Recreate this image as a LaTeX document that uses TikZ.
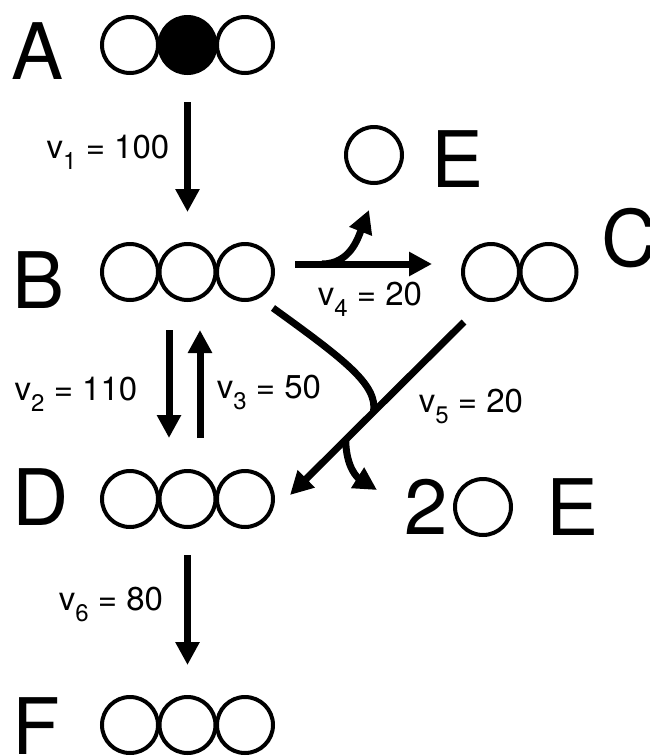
\documentclass[tikz,border=0pt]{standalone}
\usepackage{fontspec}
\setmainfont{TeX Gyre Heros}
\usetikzlibrary{positioning,arrows.meta,calc}

\newcommand{\vflux}[2]{v\raisebox{-11pt}{\fontsize{24}{24}\selectfont #1} = #2}

\begin{document}
\begin{tikzpicture}[
    x=1pt, y=-1pt,
    node distance=1.5pt,
    atom/.style={circle, draw, line width=4pt, minimum size=56pt, inner sep=0pt, outer sep=0pt},
    species/.style={font=\fontsize{78}{80}\selectfont, inner sep=0pt},
    ratelabel/.style={font=\fontsize{33}{36}\selectfont, inner sep=0pt, anchor=base},
    flux/.style={-{Triangle[length=23pt, width=23pt]}, line width=7pt},
    lane/.style={line width=7pt}
]
\useasboundingbox (0,0) rectangle (650,756);

%% ---- Species ----
\node[atom] (A1) at (130,45) {};
\node[atom, fill=black, right=of A1] (A2) {};
\node[atom, right=of A2] (A3) {};
\node[species] (labA) at (38,51) {A};

\node[atom] (B1) at (130,272) {};
\node[atom, right=of B1] (B2) {};
\node[atom, right=of B2] (B3) {};
\node[species] (labB) at (39,280) {B};

\node[atom] (E1) at (374,155) {};
\node[species] (labE1) at (458,159) {E};

\node[atom] (C1) at (491,272) {};
\node[atom, right=of C1] (C2) {};
\node[species] (labC) at (630,238) {C};

\node[atom] (D1) at (130,499) {};
\node[atom, right=of D1] (D2) {};
\node[atom, right=of D2] (D3) {};
\node[species] (labD) at (41,497) {D};

\node[atom] (E2) at (483,507) {};
\node[species] (two) at (426,507) {2};
\node[species] (labE2) at (573,507) {E};

\node[atom] (F1) at (130,725) {};
\node[atom, right=of F1] (F2) {};
\node[atom, right=of F2] (F3) {};
\node[species] (labF) at (36,726) {F};

%% ---- v1, v2, v3, v6 ----
\draw[flux, shorten <=29pt, shorten >=32pt] (A2) -- (B2);
\draw[flux, shorten <=30pt, shorten >=33pt] ([xshift=-18.5pt]B2.south) -- ([xshift=-18.5pt]D2.north);
\draw[flux, shorten <=33pt, shorten >=30pt] ([xshift=12.5pt]D2.north) -- ([xshift=12.5pt]B2.south);
\draw[flux, shorten <=28pt, shorten >=32pt] (D2) -- (F2);

%% ---- v4 ----
\draw[flux, shorten <=22pt, shorten >=31pt] ([yshift=8pt]B3.east) -- ([yshift=8pt]C1.west);
\coordinate (j4) at (322,264);
\coordinate (e4) at (369,210);
\draw[flux] (j4) .. controls (350,264) and (358,238) .. (e4);

%% ---- v5 ----
\coordinate (b5) at (273,308);
\coordinate (c5) at (464,322);
\coordinate (d5) at (290,495);
\coordinate (m5) at ($(c5)!0.52!(d5)$);
\coordinate (s5) at ($(c5)!0.68!(d5)$);
\coordinate (e5) at (377,490);
\draw[flux] (c5) -- (d5);
\draw[lane] (b5) .. controls (345,360) and (378,385) .. (m5);
\draw[flux] (s5) .. controls (346,468) and (358,478) .. (e5);

%% ---- Rate labels ----
\node[ratelabel] (v1) at (108,158) {\vflux{1}{100}};
\node[ratelabel] (v2) at (76,400) {\vflux{2}{110}};
\node[ratelabel] (v3) at (269,398) {\vflux{3}{50}};
\node[ratelabel] (v4) at (370,305) {\vflux{4}{20}};
\node[ratelabel] (v5) at (471,412) {\vflux{5}{20}};
\node[ratelabel] (v6) at (111,610) {\vflux{6}{80}};

\end{tikzpicture}
\end{document}
